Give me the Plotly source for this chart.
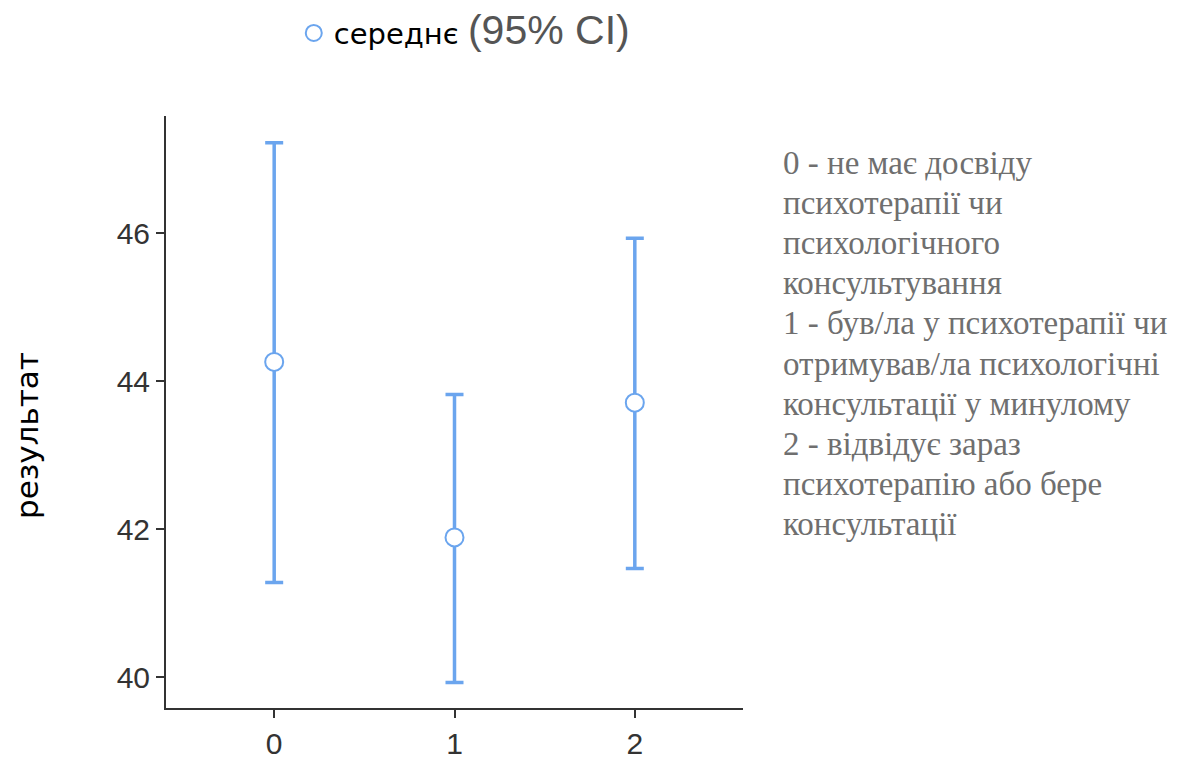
import plotly.graph_objects as go

groups = [0, 1, 2]
means = [44.26, 41.89, 43.71]
ci_upper = [47.22, 43.82, 45.93]
ci_lower = [41.28, 39.93, 41.47]
y_ticks = [40, 42, 44, 46]
x_ticks = [0, 1, 2]

legend_label = "середнє"
legend_ci = "(95% CI)"
y_title = "результат"
note_lines = [
    "0 - не має досвіду",
    "психотерапії чи",
    "психологічного",
    "консультування",
    "1 - був/ла у психотерапії чи",
    "отримував/ла психологічні",
    "консультації у минулому",
    "2 - відвідує зараз",
    "психотерапію або бере",
    "консультації",
]

BLUE = "#6ba5ee"
AX = "#333333"

err_plus = [u - m for u, m in zip(ci_upper, means)]
err_minus = [m - l for m, l in zip(means, ci_lower)]

fig = go.Figure()
fig.add_trace(go.Scatter(
    x=groups, y=means, mode="markers",
    name=(legend_label + " <span style='font-family:Liberation Sans, Arial; font-size:41px; color:#555555'>"
          + legend_ci + "</span>"),
    marker=dict(size=18, color="white", line=dict(color=BLUE, width=2)),
    error_y=dict(type="data", symmetric=False, array=err_plus, arrayminus=err_minus,
                 color=BLUE, thickness=3.5, width=9),
))

fig.update_layout(
    width=1204, height=761,
    margin=dict(l=166, r=461, t=116, b=53, autoexpand=False),
    paper_bgcolor="white", plot_bgcolor="white",
    showlegend=True,
    legend=dict(orientation="h", xref="container", yref="container",
                x=0.244, y=0.99, xanchor="left", yanchor="top",
                font=dict(family="DejaVu Sans", size=29, color="black"),
                bgcolor="rgba(0,0,0,0)"),
    xaxis=dict(range=[-0.6, 2.6], tickvals=x_ticks, ticktext=[str(t) for t in x_ticks],
               automargin=False,
               showgrid=False, zeroline=False, showline=True, linecolor=AX, linewidth=2,
               ticks="outside", ticklen=8, tickwidth=2, tickcolor=AX,
               tickfont=dict(family="Liberation Sans", size=30, color=AX)),
    yaxis=dict(range=[39.587, 47.58], tickvals=y_ticks, ticktext=[str(t) for t in y_ticks],
               automargin=False,
               showgrid=False, zeroline=False, showline=True, linecolor=AX, linewidth=2,
               ticks="outside", ticklen=8, tickwidth=2, tickcolor=AX,
               tickfont=dict(family="Liberation Sans", size=30, color=AX)),
)

fig.add_annotation(
    text=y_title, textangle=-90, xref="paper", yref="paper",
    x=(27 - 166) / 577, y=(708 - 436) / 592, xanchor="center", yanchor="middle",
    showarrow=False, font=dict(family="DejaVu Sans", size=31, color="black"),
)

first_line_y = 163
line_step = 40.1
for i, line in enumerate(note_lines):
    fig.add_annotation(
        text=line, xref="paper", yref="paper",
        x=(781 - 166) / 577, y=(708 - (first_line_y + i * line_step)) / 592,
        xanchor="left", yanchor="middle",
        align="left", showarrow=False,
        font=dict(family="Liberation Serif", size=33, color="#6f6f6f"),
    )

fig.write_html("out.html")
